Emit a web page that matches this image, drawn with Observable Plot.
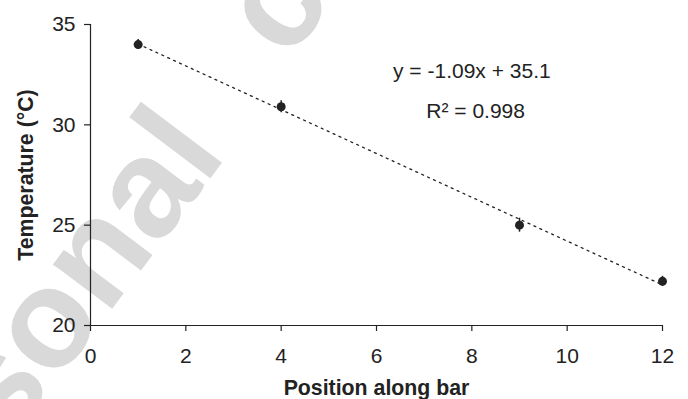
<!DOCTYPE html>
<html>
<head>
<meta charset="utf-8">
<script src="https://cdn.jsdelivr.net/npm/d3@7"></script>
<script src="https://cdn.jsdelivr.net/npm/@observablehq/plot@0.6"></script>
<style>
  html, body { margin: 0; padding: 0; background: #fff; }
  #chart svg { display: block; }
  g[aria-label="x-axis label"] text, g[aria-label="y-axis label"] text { font-weight: bold; font-size: 21.3px; }
</style>
</head>
<body>
<div id="chart"></div>
<script>
// Data
const positions = [1, 4, 9, 12];
const temperatures = [34.0, 30.9, 25.0, 22.2];
const errors = [0.25, 0.3, 0.35, 0.25];
const xTicks = [0, 2, 4, 6, 8, 10, 12];
const yTicks = [20, 25, 30, 35];
const annotations = ["y = -1.09x + 35.1", "R\u00B2 = 0.998"];
const watermark = ["Personal", "copy"];

const rows = positions.map((x, i) => ({x, y: temperatures[i], e: errors[i]}));
const ink = "#222";

const chart = Plot.plot({
  width: 688,
  height: 399,
  marginLeft: 90,
  marginRight: 26,
  marginTop: 24,
  marginBottom: 74,
  style: {fontFamily: "'Liberation Sans', Arial, Helvetica, sans-serif", fontSize: "21px", color: ink, background: "transparent"},
  x: {domain: [0, 12]},
  y: {domain: [20, 35]},
  marks: [
    Plot.axisX({ticks: xTicks, tickSize: 6, tickPadding: 17, stroke: ink, strokeWidth: 1.2, fontSize: 21,
      label: "Position along bar", labelAnchor: "center", labelOffset: 69, labelArrow: "none"}),
    Plot.axisY({ticks: yTicks, tickSize: 6, tickPadding: 9, stroke: ink, strokeWidth: 1.2, fontSize: 21,
      label: "Temperature (\u00B0C)", labelAnchor: "center", labelOffset: 73, labelArrow: "none"}),
    Plot.ruleX([0], {stroke: ink, strokeWidth: 1.2}),
    Plot.ruleY([20], {stroke: ink, strokeWidth: 1.2}),
    Plot.linearRegressionY(rows, {x: "x", y: "y", ci: 0, stroke: ink, strokeWidth: 1.3, strokeDasharray: "2,4.5"}),
    Plot.ruleX(rows, {x: "x", y1: d => d.y - d.e, y2: d => d.y + d.e, stroke: ink, strokeWidth: 1.5}),
    Plot.dot(rows, {x: "x", y: "y", r: 4.5, fill: ink, stroke: "none"}),
    Plot.text([annotations[0]], {x: 8.0, y: 32.35, text: d => d, lineAnchor: "bottom", textAnchor: "middle", fill: ink, fontSize: 21}),
    Plot.text([annotations[1]], {x: 8.08, y: 30.32, text: d => d, lineAnchor: "bottom", textAnchor: "middle", fill: ink, fontSize: 21})
  ]
});

// watermark behind everything
const svg = d3.select(chart);
const wm = svg.insert("g", ":first-child").attr("aria-label", "watermark");
wm.append("text").text(watermark[0])
  .attr("transform", "translate(228,155) rotate(-53)")
  .attr("text-anchor", "end").attr("font-size", 140).attr("font-weight", "bold")
  .attr("font-family", "'Liberation Sans', Arial, sans-serif").attr("fill", "#d9d9d9");
wm.append("text").text(watermark[1])
  .attr("transform", "translate(288,62) rotate(-53)")
  .attr("text-anchor", "start").attr("font-size", 140).attr("font-weight", "bold")
  .attr("font-family", "'Liberation Sans', Arial, sans-serif").attr("fill", "#d9d9d9");
svg.insert("rect", ":first-child").attr("width", 688).attr("height", 399).attr("fill", "#fff");

document.getElementById("chart").appendChild(chart);
</script>
</body>
</html>
